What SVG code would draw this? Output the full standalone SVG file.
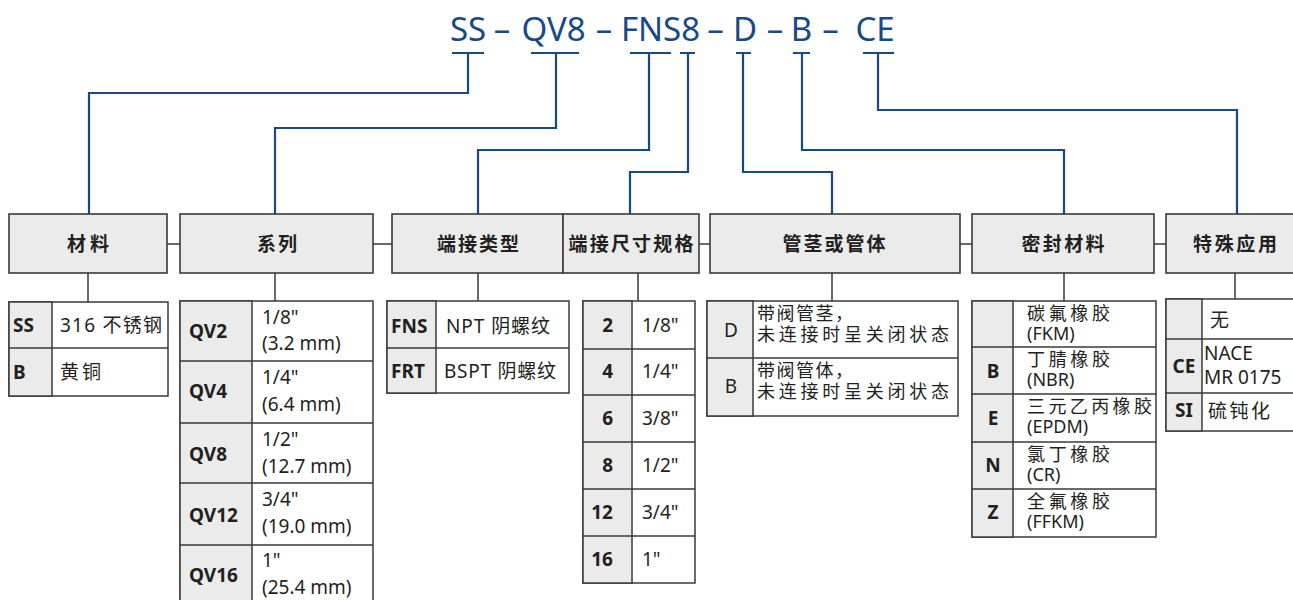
<svg xmlns="http://www.w3.org/2000/svg" width="1293" height="600" viewBox="0 0 1293 600">
<style>
.code{font-family:"Noto Sans","Liberation Sans",sans-serif;font-size:33px;fill:#15498a;text-anchor:middle}
.bl{stroke:#15498a;stroke-width:2.2;fill:none}
.ln{stroke:#3a3a3a;stroke-width:1.5;fill:none}
.hdr{fill:#ebebec;stroke:#3a3a3a;stroke-width:1.6}
.cell{fill:#fff;stroke:#3a3a3a;stroke-width:1.5}
.key{fill:#ebebec;stroke:#3a3a3a;stroke-width:1.5}
text{font-family:"Noto Sans","Noto Sans CJK SC",sans-serif;fill:#231f20}
.h{font-family:"Noto Sans CJK SC",sans-serif;font-weight:bold;font-size:19px;text-anchor:middle}
.t{font-size:19px}
.s{font-size:18px}
.b{font-size:19px;font-weight:bold}
.m{text-anchor:middle}
.e{text-anchor:end}
</style>

<g id="code">
<text class="code" x="468" y="41">SS</text>
<text class="code" x="502" y="41">–</text>
<text class="code" x="553.5" y="41">QV8</text>
<text class="code" x="604" y="41">–</text>
<text class="code" x="660.5" y="41">FNS8</text>
<text class="code" x="715.5" y="41">–</text>
<text class="code" x="745" y="41">D</text>
<text class="code" x="775" y="41">–</text>
<text class="code" x="801.5" y="41">B</text>
<text class="code" x="830.5" y="41">–</text>
<text class="code" x="875" y="41">CE</text>
</g>

<g id="connectors">
<path class="bl" d="M452 53H484M468 53V93H89V214"/>
<path class="bl" d="M531 53H579M556 53V128H275V214"/>
<path class="bl" d="M630 53H671M649 53V150H478V214"/>
<path class="bl" d="M680 53H695M688 53V172H630V214"/>
<path class="bl" d="M736 53H751M743 53V172H832V214"/>
<path class="bl" d="M793 53H810M802 53V150H1064V214"/>
<path class="bl" d="M863 53H894M878 53V110H1237V214"/>
<path class="ln" d="M167 244H180M373 244H392M699 244H710M960 244H972M1154 244H1166"/>
<path class="ln" d="M88 273V302M275 273V301M478 273V301M638 273V301M832 273V301M1064 273V301M1235 273V299"/>
</g>

<g id="h-material"><rect class="hdr" x="9" y="214" width="158" height="59"/><text class="h" x="88" y="251" textLength="42">材料</text></g>
<g id="h-series"><rect class="hdr" x="180" y="214" width="193" height="59"/><text class="h" x="277" y="251" textLength="40">系列</text></g>
<g id="h-endtype"><rect class="hdr" x="392" y="214" width="171" height="59"/><text class="h" x="478" y="251" textLength="82">端接类型</text></g>
<g id="h-endsize"><rect class="hdr" x="563" y="214" width="136" height="59"/><text class="h" x="631" y="251" textLength="125">端接尺寸规格</text></g>
<g id="h-stem"><rect class="hdr" x="710" y="214" width="250" height="59"/><text class="h" x="834" y="251" textLength="103">管茎或管体</text></g>
<g id="h-seal"><rect class="hdr" x="972" y="214" width="182" height="59"/><text class="h" x="1063" y="251" textLength="83">密封材料</text></g>
<g id="h-special"><rect class="hdr" x="1166" y="214" width="140" height="59"/><text class="h" x="1235" y="251" textLength="84">特殊应用</text></g>

<g id="t-material">
<rect class="cell" x="9" y="302" width="159" height="94"/>
<rect class="key" x="9" y="302" width="43" height="94"/>
<path class="ln" d="M9 348H168"/>
<text class="b" x="13" y="332">SS</text><text class="t" x="60" y="332" textLength="102">316 不锈钢</text>
<text class="b" x="13" y="379">B</text><text class="t" x="60" y="379" textLength="41">黄铜</text>
</g>

<g id="t-series">
<rect class="cell" x="180" y="301" width="193" height="304"/>
<rect class="key" x="180" y="301" width="72" height="304"/>
<path class="ln" d="M180 361H373M180 423H373M180 483H373M180 545H373"/>
<text class="b" x="189" y="338">QV2</text><text class="t"><tspan x="262" y="324">1/8"</tspan><tspan x="262" y="350">(3.2 mm)</tspan></text>
<text class="b" x="189" y="398">QV4</text><text class="t"><tspan x="262" y="384">1/4"</tspan><tspan x="262" y="411">(6.4 mm)</tspan></text>
<text class="b" x="189" y="461">QV8</text><text class="t"><tspan x="262" y="446">1/2"</tspan><tspan x="262" y="473">(12.7 mm)</tspan></text>
<text class="b" x="189" y="522">QV12</text><text class="t"><tspan x="262" y="506">3/4"</tspan><tspan x="262" y="533">(19.0 mm)</tspan></text>
<text class="b" x="189" y="582">QV16</text><text class="t"><tspan x="262" y="567">1"</tspan><tspan x="262" y="594">(25.4 mm)</tspan></text>
</g>

<g id="t-endtype">
<rect class="cell" x="387" y="301" width="182" height="92"/>
<rect class="key" x="387" y="301" width="49" height="92"/>
<path class="ln" d="M387 348H569"/>
<text class="b" x="391" y="333">FNS</text><text class="t" x="446" y="333" textLength="104">NPT 阴螺纹</text>
<text class="b" x="391" y="378">FRT</text><text class="t" x="444" y="378" textLength="112">BSPT 阴螺纹</text>
</g>

<g id="t-endsize">
<rect class="cell" x="583" y="301" width="112" height="282"/>
<rect class="key" x="583" y="301" width="49" height="282"/>
<path class="ln" d="M583 349H695M583 395H695M583 442H695M583 489H695M583 536H695"/>
<text class="b e" x="613" y="332">2</text><text class="t" x="642" y="332">1/8"</text>
<text class="b e" x="613" y="378">4</text><text class="t" x="642" y="378">1/4"</text>
<text class="b e" x="613" y="425">6</text><text class="t" x="642" y="425">3/8"</text>
<text class="b e" x="613" y="472">8</text><text class="t" x="642" y="472">1/2"</text>
<text class="b e" x="613" y="519">12</text><text class="t" x="642" y="519">3/4"</text>
<text class="b e" x="613" y="566">16</text><text class="t" x="642" y="566">1"</text>
</g>

<g id="t-stem">
<rect class="cell" x="707" y="301" width="251" height="115"/>
<rect class="key" x="707" y="301" width="46" height="115"/>
<path class="ln" d="M707 358H958"/>
<text class="t m" x="731" y="337">D</text>
<text class="s"><tspan x="757" y="320" textLength="96">带阀管茎，</tspan><tspan x="757" y="341" textLength="192">未连接时呈关闭状态</tspan></text>
<text class="t m" x="731" y="393">B</text>
<text class="s"><tspan x="757" y="377" textLength="96">带阀管体，</tspan><tspan x="757" y="398" textLength="192">未连接时呈关闭状态</tspan></text>
</g>

<g id="t-seal">
<rect class="cell" x="972" y="301" width="184" height="236"/>
<rect class="key" x="972" y="301" width="41" height="236"/>
<path class="ln" d="M972 347H1156M972 394H1156M972 442H1156M972 489H1156"/>
<text class="s"><tspan x="1027" y="320" textLength="83">碳氟橡胶</tspan><tspan x="1027" y="340">(FKM)</tspan></text>
<text class="b m" x="993" y="378">B</text><text class="s"><tspan x="1027" y="366" textLength="83">丁腈橡胶</tspan><tspan x="1027" y="386">(NBR)</tspan></text>
<text class="b m" x="993" y="425">E</text><text class="s"><tspan x="1027" y="413" textLength="125">三元乙丙橡胶</tspan><tspan x="1027" y="433">(EPDM)</tspan></text>
<text class="b m" x="993" y="472">N</text><text class="s"><tspan x="1027" y="461" textLength="83">氯丁橡胶</tspan><tspan x="1027" y="481">(CR)</tspan></text>
<text class="b m" x="993" y="519">Z</text><text class="s"><tspan x="1027" y="508" textLength="83">全氟橡胶</tspan><tspan x="1027" y="528">(FFKM)</tspan></text>
</g>

<g id="t-special">
<rect class="cell" x="1166" y="299" width="140" height="132"/>
<rect class="key" x="1166" y="299" width="36" height="132"/>
<path class="ln" d="M1166 339H1306M1166 393H1306"/>
<text class="t" x="1210" y="327">无</text>
<text class="b m" x="1184" y="373">CE</text><text class="t"><tspan x="1204" y="360">NACE</tspan><tspan x="1204" y="384">MR 0175</tspan></text>
<text class="b m" x="1184" y="417">SI</text><text class="t" x="1208" y="418" textLength="62">硫钝化</text>
</g>
</svg>
